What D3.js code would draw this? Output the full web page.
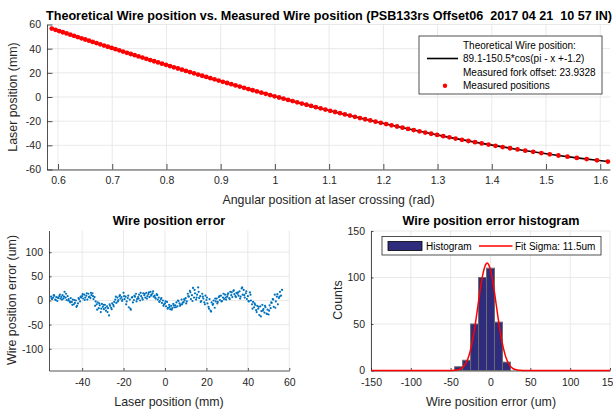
<!DOCTYPE html>
<html>
<head>
<meta charset="utf-8">
<script src="https://cdn.jsdelivr.net/npm/d3@7"></script>
<style>
  body { margin: 0; background: #fff; }
  svg { font-family: "Liberation Sans", Arial, sans-serif; }
  text { white-space: pre; }
</style>
</head>
<body>
<svg id="chart" width="613" height="412"></svg>
<script>
// Measured wire positions (angle in rad, laser position in mm)
const angle = [
  0.5885, 0.5953, 0.6021, 0.6089, 0.6158, 0.6226, 0.6295, 0.6364, 0.6433, 0.6502,
  0.6571, 0.6640, 0.6710, 0.6779, 0.6849, 0.6919, 0.6989, 0.7060, 0.7130, 0.7200,
  0.7271, 0.7342, 0.7414, 0.7485, 0.7557, 0.7628, 0.7700, 0.7773, 0.7845, 0.7918,
  0.7991, 0.8064, 0.8137, 0.8211, 0.8285, 0.8359, 0.8433, 0.8508, 0.8583, 0.8659,
  0.8734, 0.8810, 0.8886, 0.8963, 0.9040, 0.9118, 0.9195, 0.9273, 0.9352, 0.9431,
  0.9510, 0.9589, 0.9669, 0.9750, 0.9831, 0.9912, 0.9994, 1.0077, 1.0160, 1.0243,
  1.0327, 1.0411, 1.0496, 1.0582, 1.0668, 1.0755, 1.0843, 1.0931, 1.1020, 1.1110,
  1.1200, 1.1291, 1.1383, 1.1476, 1.1569, 1.1664, 1.1759, 1.1856, 1.1953, 1.2052,
  1.2151, 1.2252, 1.2353, 1.2456, 1.2561, 1.2666, 1.2773, 1.2882, 1.2992, 1.3104,
  1.3217, 1.3332, 1.3450, 1.3569, 1.3690, 1.3814, 1.3940, 1.4069, 1.4201, 1.4337,
  1.4475, 1.4617, 1.4763, 1.4913, 1.5068, 1.5229, 1.5396, 1.5569, 1.5750, 1.5940,
  1.6141
];
const laserPos = [
  56.6, 55.6, 54.6, 53.6, 52.6, 51.6, 50.6, 49.6, 48.6, 47.6,
  46.6, 45.6, 44.6, 43.6, 42.6, 41.6, 40.6, 39.6, 38.6, 37.6,
  36.6, 35.6, 34.6, 33.6, 32.6, 31.6, 30.6, 29.6, 28.6, 27.6,
  26.6, 25.6, 24.6, 23.6, 22.6, 21.6, 20.6, 19.6, 18.6, 17.6,
  16.6, 15.6, 14.6, 13.6, 12.6, 11.6, 10.6, 9.6, 8.6, 7.6,
  6.6, 5.6, 4.6, 3.6, 2.6, 1.6, 0.6, -0.4, -1.4, -2.4,
  -3.4, -4.4, -5.4, -6.4, -7.4, -8.4, -9.4, -10.4, -11.4, -12.4,
  -13.4, -14.4, -15.4, -16.4, -17.4, -18.4, -19.4, -20.4, -21.4, -22.4,
  -23.4, -24.4, -25.4, -26.4, -27.4, -28.4, -29.4, -30.4, -31.4, -32.4,
  -33.4, -34.4, -35.4, -36.4, -37.4, -38.4, -39.4, -40.4, -41.4, -42.4,
  -43.4, -44.4, -45.4, -46.4, -47.4, -48.4, -49.4, -50.4, -51.4, -52.4,
  -53.4
];

// Theoretical curve 89.1-150.5*cos(pi - x - 1.2)
const theoAngle = [0.5885, 0.6226, 0.6571, 0.6919, 0.7271, 0.7628, 0.7991, 0.8359, 0.8734,
  0.9118, 0.9510, 0.9912, 1.0327, 1.0755, 1.1200, 1.1664, 1.2151, 1.2666, 1.3217, 1.3814,
  1.4475, 1.4913, 1.5229, 1.5569, 1.5940, 1.6141];
const theoPos = [56.6, 51.6, 46.6, 41.6, 36.6, 31.6, 26.6, 21.6, 16.6,
  11.6, 6.6, 1.6, -3.4, -8.4, -13.4, -18.4, -23.4, -28.4, -33.4, -38.4,
  -43.4, -46.4, -48.4, -50.4, -52.4, -53.4];

// Wire position error (laser position mm, error um)
const errPos = [
  -55, -54.5, -54, -53.5, -53, -52.5, -52, -51.5, -51, -50.5,
  -50, -49.5, -49, -48.5, -48, -47.5, -47, -46.5, -46, -45.5,
  -45, -44.5, -44, -43.5, -43, -42.5, -42, -41.5, -41, -40.5,
  -40, -39.5, -39, -38.5, -38, -37.5, -37, -36.5, -36, -35.5,
  -35, -34.5, -34, -33.5, -33, -32.5, -32, -31.5, -31, -30.5,
  -30, -29.5, -29, -28.5, -28, -27.5, -27, -26.5, -26, -25.5,
  -25, -24.5, -24, -23.5, -23, -22.5, -22, -21.5, -21, -20.5,
  -20, -19.5, -19, -18.5, -18, -17.5, -17, -16.5, -16, -15.5,
  -15, -14.5, -14, -13.5, -13, -12.5, -12, -11.5, -11, -10.5,
  -10, -9.5, -9, -8.5, -8, -7.5, -7, -6.5, -6, -5.5,
  -5, -4.5, -4, -3.5, -3, -2.5, -2, -1.5, -1, -0.5,
  0, 0.5, 1, 1.5, 2, 2.5, 3, 3.5, 4, 4.5,
  5, 5.5, 6, 6.5, 7, 7.5, 8, 8.5, 9, 9.5,
  10, 10.5, 11, 11.5, 12, 12.5, 13, 13.5, 14, 14.5,
  15, 15.5, 16, 16.5, 17, 17.5, 18, 18.5, 19, 19.5,
  20, 20.5, 21, 21.5, 22, 22.5, 23, 23.5, 24, 24.5,
  25, 25.5, 26, 26.5, 27, 27.5, 28, 28.5, 29, 29.5,
  30, 30.5, 31, 31.5, 32, 32.5, 33, 33.5, 34, 34.5,
  35, 35.5, 36, 36.5, 37, 37.5, 38, 38.5, 39, 39.5,
  40, 40.5, 41, 41.5, 42, 42.5, 43, 43.5, 44, 44.5,
  45, 45.5, 46, 46.5, 47, 47.5, 48, 48.5, 49, 49.5,
  50, 50.5, 51, 51.5, 52, 52.5, 53, 53.5, 54, 54.5,
  55, 55.5, 56, 56.5,
  -54.75, -53.75, -52.75, -51.75, -50.75, -49.75, -48.75, -47.75, -46.75, -45.75,
  -44.75, -43.75, -42.75, -41.75, -40.75, -39.75, -38.75, -37.75, -36.75, -35.75,
  -34.75, -33.75, -32.75, -31.75, -30.75, -29.75, -28.75, -27.75, -26.75, -25.75,
  -24.75, -23.75, -22.75, -21.75, -20.75, -19.75, -18.75, -17.75, -16.75, -15.75,
  -14.75, -13.75, -12.75, -11.75, -10.75, -9.75, -8.75, -7.75, -6.75, -5.75,
  -4.75, -3.75, -2.75, -1.75, -0.75, 0.25, 1.25, 2.25, 3.25, 4.25,
  5.25, 6.25, 7.25, 8.25, 9.25, 10.25, 11.25, 12.25, 13.25, 14.25,
  15.25, 16.25, 17.25, 18.25, 19.25, 20.25, 21.25, 22.25, 23.25, 24.25,
  25.25, 26.25, 27.25, 28.25, 29.25, 30.25, 31.25, 32.25, 33.25, 34.25,
  35.25, 36.25, 37.25, 38.25, 39.25, 40.25, 41.25, 42.25, 43.25, 44.25,
  45.25, 46.25, 47.25, 48.25, 49.25, 50.25, 51.25, 52.25, 53.25, 54.25,
  55.25
];
const errVal = [
  8, 3, 6, 10, 2, 7, -1, 5, 9, 4,
  7, 11, 4, 18, 6, 1, 9, 3, -2, 5,
  -3, 2, -8, -5, 0, -11, -6, 3, -2, 6,
  9, 4, 12, 6, 10, 2, 14, 8, 5, 11,
  15, 3, 7, -2, -8, -4, -16, -10, -24, -7,
  -13, -18, -9, -21, -12, -16, -31, -11, -15, -6,
  -9, -3, 2, -5, 6, 1, 9, 4, 7, 2,
  16, 3, 8, -2, 5, -14, 2, -19, 6, -4,
  1, 8, 14, 3, 7, 12, 0, 9, 5, 15,
  11, 6, 16, 9, 13, 7, 18, 12, 15, 8,
  10, 4, 13, 2, 6, -1, 3, -5, 0, -8,
  -6, -12, -3, -15, -9, -18, -11, -16, -7, -14,
  -10, -4, -12, -1, -6, -9, 2, -5, -3, 1,
  5, -2, 14, 8, 20, 3, 11, 26, 6, 15,
  2, 12, 27, 5, 9, -1, 14, 4, -4, 10,
  1, -6, -13, 3, -21, -4, -9, 0, -15, -2,
  4, -3, 7, 1, 10, -1, 6, 3, 12, 2,
  8, 15, 5, 18, 11, 7, 20, 13, 9, 16,
  14, 10, 19, 8, 25, 12, 22, 6, 15, 3,
  9, -2, 17, 0, -8, -3, -14, -9, -20, -11,
  -17, -30, -12, -22, -9, -18, -25, -14, -27, -19,
  -29, -10, -16, -5, 3, -13, 12, -2, 8, -8,
  5, 18, 10, 22,
  4, 11, 1, 6, 12, 2, 8, 14, 0, -4,
  -9, 1, -13, 5, 8, 13, 1, 15, 7, 16,
  9, -11, -19, -6, -17, -9, -15, -24, -8, -18,
  -12, 8, -2, 11, -1, 9, -8, 10, -17, 7,
  10, -2, 4, 16, 2, 14, 4, 17, 10, 19,
  6, 11, -3, 5, -11, -2, -17, -13, -19, -10,
  -14, 0, -11, -8, 3, -6, 9, 17, -1, 22,
  6, 18, -3, 8, -8, 6, -17, -23, -7, 4,
  -6, 9, -2, 14, 6, 12, 3, 17, 21, 7,
  17, 4, 27, 11, 19, -1, 12, -17, -6, -24,
  -13, -33, -21, -11, -28, -21, -4, 2, -15, 13,
  8
];

// Histogram of the error (bin centre um, counts) and gaussian fit
const binCenter = [-40, -30, -20, -10, 0, 10, 20];
const binCount = [4, 11, 50, 100, 110, 52, 9];
const fitX = [-150, -50, -47.5, -45, -42.5, -40, -37.5, -35, -32.5, -30, -27.5, -25, -22.5,
  -20, -17.5, -15, -12.5, -10, -7.5, -5, -4.2, -2.5, 0, 2.5, 5, 7.5, 10, 12.5, 15, 17.5,
  20, 22.5, 25, 27.5, 30, 32.5, 35, 37.5, 40, 150];
const fitY = [0, 0.05, 0.1, 0.21, 0.45, 0.91, 1.75, 3.2, 5.6, 9.3, 14.8, 22.5, 32.6,
  44.9, 59.2, 74.3, 89.0, 101.7, 110.8, 115.2, 115.5, 114.2, 108.1, 97.5, 83.9, 68.8, 53.9, 40.2, 28.7, 19.5,
  12.6, 7.8, 4.6, 2.6, 1.39, 0.71, 0.35, 0.16, 0.07, 0];

// tick values
const topXTicks = [0.6, 0.7, 0.8, 0.9, 1, 1.1, 1.2, 1.3, 1.4, 1.5, 1.6];
const topYTicks = [-60, -40, -20, 0, 20, 40, 60];
const errXTicks = [-40, -20, 0, 20, 40, 60];
const errYTicks = [-100, -50, 0, 50, 100];
const histXTicks = [-150, -100, -50, 0, 50, 100, 150];
const histYTicks = [0, 50, 100, 150];

const ink = "#262626";
const gridColor = "#e3e3e3";
const tickFont = "10.5px";
const svg = d3.select("#chart");

// number format with a plain hyphen like matlab
const fmt = d => String(d);

function drawAxes(x, y, xTicks, yTicks, tickLen, xPad, yPad) {
  const g = svg.append("g");
  const [x0, x1] = x.range();
  const [y0, y1] = y.range();

  // grid
  g.append("g").selectAll("line").data(xTicks).join("line")
    .attr("x1", d => x(d)).attr("x2", d => x(d))
    .attr("y1", y0).attr("y2", y1)
    .attr("stroke", gridColor).attr("stroke-width", 0.8);
  g.append("g").selectAll("line").data(yTicks).join("line")
    .attr("x1", x0).attr("x2", x1)
    .attr("y1", d => y(d)).attr("y2", d => y(d))
    .attr("stroke", gridColor).attr("stroke-width", 0.8);

  const xa = g.append("g")
    .attr("transform", `translate(0,${y0})`)
    .call(d3.axisBottom(x).tickValues(xTicks).tickFormat(fmt)
      .tickSizeInner(-tickLen).tickSizeOuter(0).tickPadding(xPad));
  const ya = g.append("g")
    .attr("transform", `translate(${x0},0)`)
    .call(d3.axisLeft(y).tickValues(yTicks).tickFormat(fmt)
      .tickSizeInner(-tickLen).tickSizeOuter(0).tickPadding(yPad));

  [xa, ya].forEach(a => {
    a.select(".domain").attr("stroke", ink).attr("stroke-width", 0.8);
    a.selectAll(".tick line").attr("stroke", ink).attr("stroke-width", 0.8);
    a.selectAll(".tick text").attr("fill", ink)
      .style("font-size", tickFont).style("font-family", "Liberation Sans, Arial, sans-serif");
  });
  return g;
}

function label(txt, x, y, opts = {}) {
  const t = svg.append("text")
    .attr("x", x).attr("y", y)
    .attr("text-anchor", "middle")
    .attr("fill", opts.fill || ink)
    .style("font-size", (opts.size || 12.4) + "px")
    .style("font-weight", opts.bold ? "bold" : "normal")
    .text(txt);
  if (opts.rotate) t.attr("transform", `rotate(-90,${x},${y})`);
  return t;
}

// ---------- top plot ----------
const xTop = d3.scaleLinear([0.5797, 1.618], [47, 610]);
const yTop = d3.scaleLinear([-60, 60], [169.5, 24.5]);
drawAxes(xTop, yTop, topXTicks, topYTicks, 5.5, 7, 6);

svg.append("path")
  .datum(theoAngle.map((a, i) => [a, theoPos[i]]))
  .attr("d", d3.line().x(d => xTop(d[0])).y(d => yTop(d[1])).curve(d3.curveMonotoneX))
  .attr("fill", "none").attr("stroke", "#000").attr("stroke-width", 1.6);

svg.append("g").selectAll("circle")
  .data(angle.map((a, i) => [a, laserPos[i]]))
  .join("circle")
  .attr("cx", d => xTop(d[0])).attr("cy", d => yTop(d[1]))
  .attr("r", 2.4).attr("fill", "#ff0000");

label("Theoretical Wire position vs. Measured Wire position (PSB133rs Offset06  2017 04 21  10 57 IN)",
  329, 19.5, { bold: true, fill: "#000", size: 12.6 });
label("Angular position at laser crossing (rad)", 328.5, 203.5);
label("Laser position (mm)", 17, 97, { rotate: true });

// legend
const lg = svg.append("g");
lg.append("rect").attr("x", 419).attr("y", 36).attr("width", 183).attr("height", 58)
  .attr("fill", "#fff").attr("stroke", ink).attr("stroke-width", 0.8);
const lgText = ["Theoretical Wire position:", "89.1-150.5*cos(pi - x +-1.2)",
  "Measured fork offset: 23.9328", "Measured positions"];
lg.selectAll("text").data(lgText).join("text")
  .attr("x", 463).attr("y", (d, i) => 48.8 + i * 13.5)
  .attr("fill", "#000").style("font-size", "10px")
  .text(d => d);
lg.append("line").attr("x1", 427).attr("x2", 458).attr("y1", 58.5).attr("y2", 58.5)
  .attr("stroke", "#000").attr("stroke-width", 1.6);
lg.append("circle").attr("cx", 445).attr("cy", 85.7).attr("r", 2.2).attr("fill", "#ff0000");

// ---------- error plot ----------
const xErr = d3.scaleLinear([-56, 60], [49, 289.3]);
const yErr = d3.scaleLinear([-145, 145], [370.5, 230.5]);
drawAxes(xErr, yErr, errXTicks, errYTicks, 2.5, 8, 6);

svg.append("g").selectAll("circle")
  .data(errPos.map((p, i) => [p, errVal[i]]))
  .join("circle")
  .attr("cx", d => xErr(d[0])).attr("cy", d => yErr(d[1]))
  .attr("r", 1.1).attr("fill", "#0072bd");

label("Wire position error", 169, 224.5, { bold: true, fill: "#000", size: 12.6 });
label("Laser position (mm)", 169, 405.5);
label("Wire position error (um)", 16, 300, { rotate: true });

// ---------- histogram ----------
const xHist = d3.scaleLinear([-150, 150], [371, 610]);
const yHist = d3.scaleLinear([0, 150], [370.5, 231]);
drawAxes(xHist, yHist, histXTicks, histYTicks, 2.5, 8, 6);

svg.append("g").selectAll("rect")
  .data(binCenter.map((c, i) => [c, binCount[i]]))
  .join("rect")
  .attr("x", d => xHist(d[0] - 5))
  .attr("width", d => xHist(d[0] + 5) - xHist(d[0] - 5))
  .attr("y", d => yHist(d[1]))
  .attr("height", d => yHist(0) - yHist(d[1]))
  .attr("fill", "#2f2c7e").attr("stroke", "#6b6b6b").attr("stroke-width", 1);

svg.append("path")
  .datum(fitX.map((v, i) => [v, fitY[i]]))
  .attr("d", d3.line().x(d => xHist(d[0])).y(d => yHist(d[1])).curve(d3.curveMonotoneX))
  .attr("fill", "none").attr("stroke", "#ff0000").attr("stroke-width", 1.5);

label("Wire position error histogram", 491, 224.5, { bold: true, fill: "#000", size: 12.6 });
label("Wire position error (um)", 491, 405.5);
label("Counts", 342, 300, { rotate: true });

// legend
const hl = svg.append("g");
hl.append("rect").attr("x", 382).attr("y", 236.5).attr("width", 219).attr("height", 18.5)
  .attr("fill", "#fff").attr("stroke", ink).attr("stroke-width", 0.8);
hl.append("rect").attr("x", 388).attr("y", 241.5).attr("width", 34).attr("height", 9)
  .attr("fill", "#2f2c7e").attr("stroke", "#000").attr("stroke-width", 0.8);
hl.append("text").attr("x", 426).attr("y", 249.5).attr("fill", "#000")
  .style("font-size", "10px").text("Histogram");
hl.append("line").attr("x1", 479).attr("x2", 512.5).attr("y1", 246).attr("y2", 246)
  .attr("stroke", "#ff0000").attr("stroke-width", 1.5);
hl.append("text").attr("x", 515).attr("y", 249.5).attr("fill", "#000")
  .style("font-size", "10px").text("Fit Sigma: 11.5um");
</script>
</body>
</html>
